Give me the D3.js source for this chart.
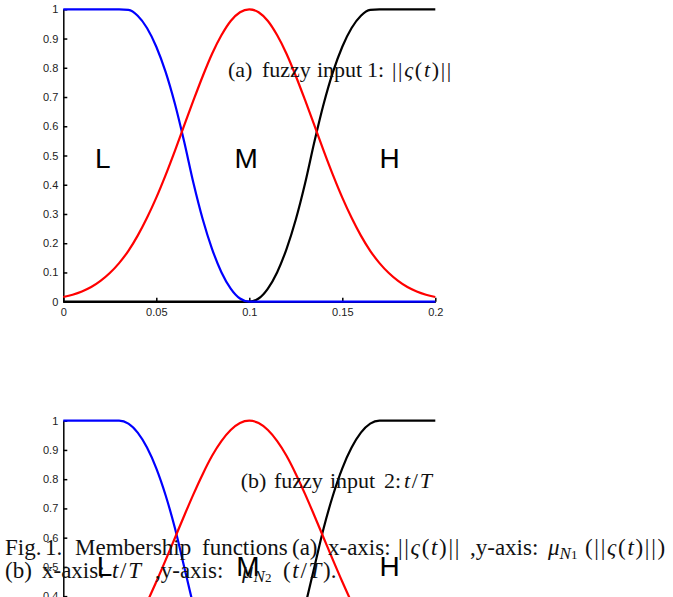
<!DOCTYPE html>
<meta charset="utf-8">
<style>

body {
  margin: 0;
  background: #fff;
}

svg {
  display: block;
}

.axis path,
.axis line {
  stroke: #000;
  stroke-width: 1.5;
}

.axis text {
  font: 11px "Liberation Sans", Arial, sans-serif;
  fill: #222;
}

.curve {
  fill: none;
  stroke-width: 2.2;
}

.set {
  font: 28px "Liberation Sans", Arial, sans-serif;
}

.serif {
  font-family: "Liberation Serif", "Times New Roman", serif;
  fill: #111;
}

.it {
  font-style: italic;
}

.m {
  letter-spacing: 1.7px;
}
</style>
<body>
<script src="https://cdnjs.cloudflare.com/ajax/libs/d3/7.8.5/d3.min.js"></script>
<script>

var width = 673,
    height = 597;

// sample grid along the x axis
var xGrid = [0, 0.005, 0.01, 0.015, 0.02, 0.025, 0.03, 0.035, 0.04, 0.045,
  0.05, 0.055, 0.06, 0.065, 0.07, 0.075, 0.08, 0.085, 0.09, 0.095,
  0.1, 0.105, 0.11, 0.115, 0.12, 0.125, 0.13, 0.135, 0.14, 0.145,
  0.15, 0.155, 0.16, 0.165, 0.17, 0.175, 0.18, 0.185, 0.19, 0.195, 0.2];

// (a) fuzzy input 1
var lowA = [1, 1, 1, 1, 1, 1, 1, 0.998, 0.978, 0.936,
  0.872, 0.786, 0.677, 0.547, 0.405, 0.281, 0.18, 0.101, 0.045, 0.011,
  0, 0, 0, 0, 0, 0, 0, 0, 0, 0,
  0, 0, 0, 0, 0, 0, 0, 0, 0, 0, 0];
var medA = [0.016, 0.024, 0.035, 0.05, 0.071, 0.098, 0.132, 0.174, 0.226, 0.287,
  0.356, 0.433, 0.516, 0.603, 0.689, 0.772, 0.848, 0.911, 0.96, 0.99,
  1, 0.99, 0.96, 0.911, 0.848, 0.772, 0.689, 0.603, 0.516, 0.433,
  0.356, 0.287, 0.226, 0.174, 0.132, 0.098, 0.071, 0.05, 0.035, 0.024, 0.016];
var highA = [0, 0, 0, 0, 0, 0, 0, 0, 0, 0,
  0, 0, 0, 0, 0, 0, 0, 0, 0, 0,
  0, 0.011, 0.045, 0.101, 0.18, 0.281, 0.405, 0.547, 0.677, 0.786,
  0.872, 0.936, 0.978, 0.998, 1, 1, 1, 1, 1, 1, 1];

// (b) fuzzy input 2
var lowB = [1, 1, 1, 1, 1, 1, 1, 0.99, 0.959, 0.908,
  0.837, 0.745, 0.633, 0.5, 0.367, 0.255, 0.163, 0.092, 0.041, 0.01,
  0, 0, 0, 0, 0, 0, 0, 0, 0, 0,
  0, 0, 0, 0, 0, 0, 0, 0, 0, 0, 0];
var medB = [0.041, 0.055, 0.075, 0.099, 0.129, 0.165, 0.208, 0.258, 0.315, 0.379,
  0.449, 0.523, 0.599, 0.675, 0.749, 0.818, 0.88, 0.93, 0.968, 0.992,
  1, 0.992, 0.968, 0.93, 0.88, 0.818, 0.749, 0.675, 0.599, 0.523,
  0.449, 0.379, 0.315, 0.258, 0.208, 0.165, 0.129, 0.099, 0.075, 0.055, 0.041];
var highB = [0, 0, 0, 0, 0, 0, 0, 0, 0, 0,
  0, 0, 0, 0, 0, 0, 0, 0, 0, 0,
  0, 0.01, 0.041, 0.092, 0.163, 0.255, 0.367, 0.5, 0.633, 0.745,
  0.837, 0.908, 0.959, 0.99, 1, 1, 1, 1, 1, 1, 1];

var xTicks = [0, 0.05, 0.1, 0.15, 0.2],
    xTickLabels = ["0", "0.05", "0.1", "0.15", "0.2"];
var yTicks = [0, 0.1, 0.2, 0.3, 0.4, 0.5, 0.6, 0.7, 0.8, 0.9, 1],
    yTickLabels = ["0", "0.1", "0.2", "0.3", "0.4", "0.5", "0.6", "0.7", "0.8", "0.9", "1"];

var setNames = ["L", "M", "H"],
    setColors = ["#0000ff", "#ff0000", "#000000"];

var panels = [
  { top: 9.3, series: [lowA, medA, highA],
    labelX: [0.017, 0.092, 0.170], labelY: 0.456 },
  { top: 420.7, series: [lowB, medB, highB],
    labelX: [0.018, 0.093, 0.170], labelY: 0.469 }
];

var plotH = 292.4;

var x = d3.scaleLinear()
    .domain([0, 0.2])
    .range([63.3, 435.3]);

var svg = d3.select("body").append("svg")
    .attr("width", width)
    .attr("height", height);

panels.forEach(function(p) {
  var y = d3.scaleLinear()
      .domain([0, 1])
      .range([plotH, 0]);

  var g = svg.append("g")
      .attr("transform", "translate(0," + p.top + ")");

  g.append("g")
      .attr("class", "axis")
      .attr("transform", "translate(" + x(0) + ",0)")
      .call(d3.axisLeft(y)
        .tickValues(yTicks)
        .tickFormat(function(d, i) { return yTickLabels[i]; })
        .tickSizeInner(-4)
        .tickSizeOuter(0)
        .tickPadding(5));

  g.append("g")
      .attr("class", "axis")
      .attr("transform", "translate(0," + plotH + ")")
      .call(d3.axisBottom(x)
        .tickValues(xTicks)
        .tickFormat(function(d, i) { return xTickLabels[i]; })
        .tickSizeInner(-4)
        .tickSizeOuter(0)
        .tickPadding(7));

  var line = d3.line()
      .x(function(d, i) { return x(xGrid[i]); })
      .y(function(d) { return y(d); })
      .curve(d3.curveMonotoneX);

  // H first, then L, then M so the zero parts of L sit over the axis
  [2, 0, 1].forEach(function(k) {
    g.append("path")
        .datum(p.series[k])
        .attr("class", "curve")
        .attr("stroke", setColors[k])
        .attr("d", line);
  });

  g.selectAll(".set")
      .data(setNames)
    .enter().append("text")
      .attr("class", "set")
      .attr("x", function(d, i) { return x(p.labelX[i]); })
      .attr("y", y(p.labelY))
      .text(function(d) { return d; });
});

// a line of serif text; a number in the list sets x for the next piece
function serifLine(pieces, baseline, size) {
  var t = svg.append("text")
      .attr("class", "serif")
      .attr("x", 0)
      .attr("y", baseline)
      .style("font-size", size + "px");
  var nextX = null;
  pieces.forEach(function(p) {
    if (typeof p === "number") { nextX = p; return; }
    var s = t.append("tspan").text(p.t);
    if (nextX !== null) { s.attr("x", nextX); nextX = null; }
    s.attr("class", (p.i ? "it " : "") + (p.m ? "m" : ""));
    if (p.s) s.style("font-size", p.s + "px");
    if (p.dy) s.attr("dy", p.dy);
  });
}

var normSigma = [{t: "||", m: 1}, {t: "ς", i: 1, m: 1}, {t: "(", m: 1}, {t: "t", i: 1, m: 1}, {t: ")||", m: 1}];
var tOverT = [{t: "t", i: 1, m: 1}, {t: "/", m: 1}, {t: "T", i: 1, m: 1}];

serifLine([228, {t: "(a)"}, 262, {t: "fuzzy"}, 317, {t: "input"}, 367, {t: "1:"}, 392]
    .concat(normSigma), 76.7, 22);
serifLine([240.7, {t: "(b)"}, 274, {t: "fuzzy"}, 330, {t: "input"}, 384, {t: "2:"}, 404]
    .concat(tOverT), 488, 22);

serifLine([5, {t: "Fig."}, 45, {t: "1."}, 75, {t: "Membership"}, 202, {t: "functions"},
    292, {t: "(a)"}, 328, {t: "x-axis:"}, 398].concat(normSigma,
    [470, {t: ",y-axis:"}, 548, {t: "μ", i: 1}, {t: "N", i: 1, s: 17, dy: 4}, {t: "1", s: 13},
     585, {t: "(", dy: -4, m: 1}], normSigma, [{t: ")", m: 1}]), 555, 23);

serifLine([5, {t: "(b)"}, 42, {t: "x-axis:"}, 112].concat(tOverT,
    [155, {t: ",y-axis:"}, 242, {t: "μ", i: 1}, {t: "N", i: 1, s: 17, dy: 4}, {t: "2", s: 13},
     283, {t: "(", dy: -4, m: 1}], tOverT, [{t: ")."}]), 578, 23);

</script>
